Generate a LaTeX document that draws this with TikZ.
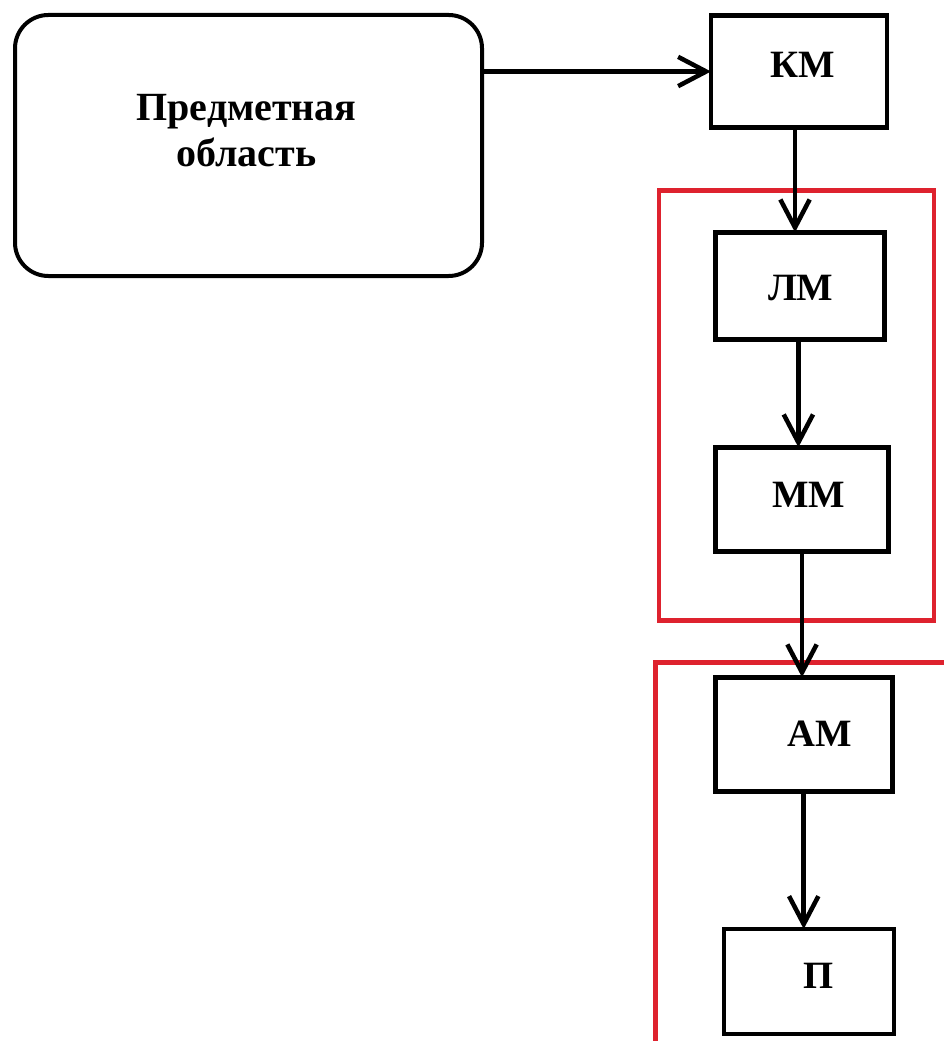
\documentclass[tikz,border=0pt]{standalone}
\usepackage{fontspec}
\setmainfont{Liberation Serif}
\usetikzlibrary{arrows.meta}
\definecolor{framered}{RGB}{222,34,46}
\begin{document}
\begin{tikzpicture}[x=0.75pt,y=-0.75pt,
  box/.style={draw=black, line width=3.7pt, inner sep=0pt, outer sep=0pt},
  boxtext/.style={font=\bfseries\fontsize{29pt}{33pt}\selectfont},
  conn/.style={line width=3.4pt, -{Straight Barb[length=21pt,width=22pt]}},
  frame/.style={draw=framered, line width=3.7pt}]
  % page
  \fill[white] (0,0) rectangle (944,1041);
  \useasboundingbox (0,0) rectangle (944,1041);

  % subject area
  \node[box, line width=3pt, rounded corners=25pt, minimum width=350.25pt, minimum height=195.75pt,
        label={[font=\bfseries\fontsize{30pt}{34.5pt}\selectfont, align=center, yshift=11pt, xshift=-1.5pt]center:Предметная\\область}]
        (area) at (248.5,145.5) {};

  % model chain
  \node[box, minimum width=132pt, minimum height=83.7pt,
        label={[boxtext, xshift=2.5pt, yshift=4.9pt]center:КМ}] (km) at (799,71.5) {};
  \node[box, minimum width=126.5pt, minimum height=80pt,
        label={[boxtext, xshift=0.75pt, yshift=-2pt]center:ЛМ}] (lm) at (799.7,285.7) {};
  \node[box, minimum width=130pt, minimum height=78.3pt,
        label={[boxtext, xshift=5pt, yshift=3.4pt]center:ММ}] (mm) at (802,499.5) {};
  \node[box, minimum width=133pt, minimum height=85.8pt,
        label={[boxtext, xshift=12.2pt, yshift=0.4pt]center:АМ}] (am) at (803.7,734.5) {};
  \node[box, minimum width=127.5pt, minimum height=78.75pt,
        label={[boxtext, xshift=7pt, yshift=4.4pt]center:П}] (p) at (809,981.5) {};

  % group frames
  \draw[frame] (659,190.7) rectangle (934,620.7);
  \begin{scope}
    \clip (0,0) rectangle (944,1041);
    \draw[frame] (655.7,1060) -- (655.7,662.3) -- (960,662.3);
  \end{scope}

  % connectors
  \draw[conn] (area.east |- km.west) -- (km.west);
  \draw[conn] ([xshift=-3pt]km.south) -- ([xshift=-3pt]km.south |- lm.north);
  \draw[conn] ([xshift=-1pt]lm.south) -- ([xshift=-1pt]lm.south |- mm.north);
  \draw[conn] (mm.south) -- (mm.south |- am.north);
  \draw[conn] (am.south) -- (am.south |- p.north);
\end{tikzpicture}
\end{document}
